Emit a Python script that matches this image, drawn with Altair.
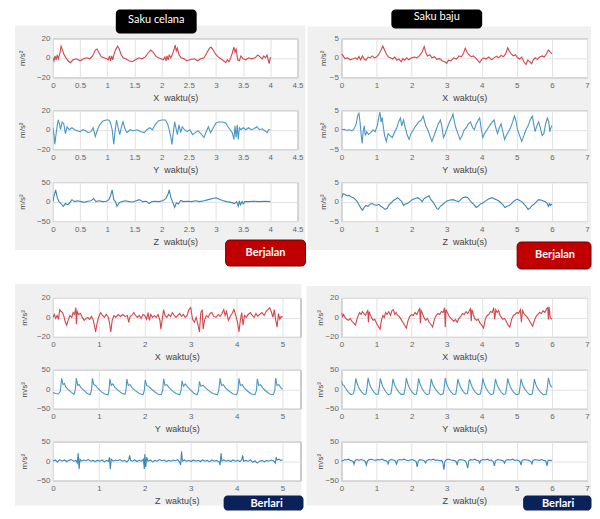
import altair as alt
import pandas as pd

# ---------------- data: (time [s], acceleration [m/s^2]) ----------------
# Saku celana / Berjalan
TL_X = [(0.00,0),(0.02,-3),(0.04,2),(0.06,-2),(0.08,3),(0.10,-1),(0.13,5),(0.15,12),(0.17,9),(0.20,4),(0.24,0),(0.28,-3),(0.32,-5),(0.37,-2),(0.43,-1),(0.50,-3),(0.56,-1),(0.62,0),(0.68,-1),(0.73,2),(0.78,8),(0.81,9),(0.85,5),(0.89,1),(0.94,0),(0.99,-1),(1.02,-2),(1.04,2),(1.06,-3),(1.08,2),(1.10,-2),(1.12,3),(1.15,8),(1.19,12),(1.22,9),(1.25,4),(1.29,0),(1.34,-1),(1.40,-3),(1.46,-4),(1.52,-2),(1.58,0),(1.64,-1),(1.70,1),(1.75,5),(1.80,8),(1.84,6),(1.89,2),(1.94,0),(1.99,-1),(2.03,-2),(2.06,1),(2.08,-3),(2.10,2),(2.12,-2),(2.14,3),(2.17,0),(2.20,4),(2.23,9),(2.25,13),(2.27,7),(2.29,10),(2.32,3),(2.36,0),(2.41,-1),(2.46,-3),(2.52,-2),(2.60,-1),(2.66,-3),(2.72,-1),(2.78,0),(2.83,5),(2.88,10),(2.91,11),(2.95,8),(2.99,4),(3.04,1),(3.09,-1),(3.14,-3),(3.18,-5),(3.21,-2),(3.24,-4),(3.27,0),(3.30,5),(3.33,11),(3.35,6),(3.37,9),(3.40,-2),(3.43,-3),(3.46,2),(3.50,-1),(3.55,-2),(3.60,0),(3.66,-1),(3.72,0),(3.77,3),(3.81,1),(3.85,-1),(3.88,2),(3.91,0),(3.94,3),(3.96,-2),(3.98,-6),(4.00,1)]
TL_Y = [(0.00,2),(0.02,-5),(0.035,-15),(0.05,-8),(0.08,5),(0.10,10),(0.12,6),(0.14,0),(0.17,8),(0.20,6),(0.23,-4),(0.26,3),(0.30,0),(0.35,2),(0.40,0),(0.45,-1),(0.50,-2),(0.55,0),(0.60,-1),(0.65,-3),(0.70,-2),(0.74,2),(0.78,-7),(0.82,0),(0.86,5),(0.92,9),(0.98,10),(1.03,10),(1.06,7),(1.09,0),(1.12,-15),(1.14,-3),(1.17,10),(1.20,2),(1.23,-5),(1.26,3),(1.29,8),(1.32,2),(1.36,-3),(1.42,0),(1.48,-1),(1.55,0),(1.62,-2),(1.68,-3),(1.73,0),(1.78,2),(1.83,0),(1.88,5),(1.94,9),(2.00,10),(2.07,10),(2.11,6),(2.14,0),(2.17,-8),(2.19,-15),(2.21,-5),(2.24,8),(2.27,0),(2.29,-5),(2.32,5),(2.35,-3),(2.38,3),(2.42,0),(2.47,-2),(2.52,0),(2.57,-5),(2.62,-3),(2.67,-1),(2.72,-4),(2.78,-8),(2.82,-2),(2.86,3),(2.90,-3),(2.95,2),(3.00,7),(3.05,8),(3.12,8),(3.18,7),(3.22,3),(3.26,0),(3.30,-3),(3.33,-10),(3.35,4),(3.37,-8),(3.39,5),(3.41,-10),(3.43,2),(3.46,0),(3.50,2),(3.55,0),(3.60,2),(3.65,0),(3.70,1),(3.75,3),(3.80,0),(3.85,1),(3.90,-1),(3.94,-3),(3.97,0),(4.00,0)]
TL_Z = [(0.00,0),(0.02,15),(0.05,30),(0.08,10),(0.11,0),(0.15,-5),(0.19,-12),(0.23,-5),(0.27,-8),(0.31,-3),(0.35,5),(0.40,0),(0.45,2),(0.52,0),(0.58,-2),(0.64,1),(0.70,2),(0.75,8),(0.79,0),(0.85,2),(0.92,0),(0.98,1),(1.03,5),(1.06,15),(1.09,30),(1.12,5),(1.15,0),(1.18,-12),(1.22,-3),(1.27,0),(1.33,2),(1.40,0),(1.47,-1),(1.53,2),(1.59,5),(1.65,0),(1.72,1),(1.77,-5),(1.82,0),(1.88,1),(1.95,0),(2.02,2),(2.08,8),(2.12,20),(2.14,30),(2.17,10),(2.20,0),(2.24,-15),(2.27,-3),(2.31,-6),(2.35,3),(2.40,0),(2.48,1),(2.55,0),(2.62,2),(2.70,0),(2.78,2),(2.86,5),(2.94,8),(3.00,10),(3.06,6),(3.12,3),(3.20,0),(3.28,-2),(3.34,-5),(3.38,0),(3.41,-12),(3.43,2),(3.45,-8),(3.48,0),(3.50,-6),(3.53,0),(3.60,0),(3.70,1),(3.80,0),(3.90,1),(4.00,0)]

# Saku baju / Berjalan
TR_X = [(0.00,1.0),(0.05,0.5),(0.10,-0.2),(0.18,0),(0.25,-0.5),(0.32,-0.3),(0.40,0),(0.45,-0.4),(0.50,0.3),(0.55,-0.5),(0.60,0.5),(0.65,-0.3),(0.70,-0.6),(0.76,0.2),(0.82,0),(0.88,0.5),(0.94,0),(1.00,0.2),(1.06,0.8),(1.12,1.8),(1.18,3.0),(1.23,2.0),(1.28,1.0),(1.34,0.2),(1.40,0),(1.46,-0.3),(1.52,0.2),(1.58,-0.6),(1.64,-0.3),(1.70,-1.0),(1.75,-0.2),(1.80,-0.6),(1.86,0),(1.92,-0.5),(2.00,0),(2.08,0.2),(2.15,0),(2.22,0.5),(2.30,1.5),(2.36,2.9),(2.40,1.5),(2.45,0.5),(2.52,0.8),(2.58,0),(2.65,0.3),(2.72,-0.4),(2.80,-0.2),(2.88,-0.8),(2.95,-1.0),(3.00,-1.4),(3.05,-0.6),(3.12,-0.8),(3.20,0),(3.28,-0.3),(3.35,0.5),(3.42,0.3),(3.48,1.2),(3.53,2.5),(3.58,1.5),(3.63,0.8),(3.70,0.3),(3.76,0.5),(3.82,0),(3.88,-0.6),(3.94,-1.2),(4.00,-0.4),(4.06,0),(4.12,-0.3),(4.20,0.2),(4.28,-0.5),(4.35,0),(4.42,0.4),(4.48,0),(4.55,0.6),(4.62,0.3),(4.68,1.0),(4.74,2.6),(4.78,1.8),(4.84,1.0),(4.90,0.5),(4.96,0.8),(5.02,0),(5.08,-0.3),(5.14,0.2),(5.20,-1.0),(5.26,-1.7),(5.31,-0.6),(5.36,-0.9),(5.42,-1.5),(5.47,-0.5),(5.52,0),(5.58,-0.4),(5.65,0.2),(5.72,0.5),(5.78,0.2),(5.84,1.0),(5.90,2.0),(5.95,1.5),(6.00,1.0)]
TR_Y = [(0.00,0),(0.08,0.1),(0.15,-0.2),(0.22,0),(0.30,-0.3),(0.36,0.2),(0.42,1.5),(0.47,3.8),(0.50,4.2),(0.53,2.0),(0.56,-1.0),(0.59,-3.5),(0.62,-0.5),(0.65,1.0),(0.68,-1.5),(0.72,-0.5),(0.77,-1.2),(0.83,-0.8),(0.90,0),(0.96,-0.5),(1.02,1.0),(1.07,3.5),(1.10,4.5),(1.13,2.0),(1.16,3.2),(1.19,1.0),(1.23,-1.5),(1.28,-3.0),(1.33,-1.0),(1.38,-1.5),(1.45,-2.0),(1.52,-0.5),(1.58,0.5),(1.63,2.0),(1.68,3.0),(1.72,1.0),(1.77,2.5),(1.82,0.5),(1.88,-1.5),(1.93,-2.5),(1.98,-1.0),(2.05,0),(2.12,1.0),(2.20,2.0),(2.28,2.5),(2.33,3.5),(2.36,2.5),(2.40,1.0),(2.46,0),(2.52,-1.5),(2.58,-3.0),(2.64,-1.5),(2.70,0),(2.76,1.5),(2.82,2.5),(2.86,1.0),(2.91,-2.0),(2.96,-1.0),(3.02,0.5),(3.08,2.0),(3.14,3.0),(3.18,4.0),(3.22,2.0),(3.26,0.5),(3.32,-1.0),(3.38,-2.5),(3.44,-1.5),(3.50,0),(3.56,0.5),(3.62,1.5),(3.68,2.0),(3.74,0.5),(3.79,0),(3.84,1.5),(3.90,2.5),(3.94,3.0),(3.98,0.5),(4.03,-2.0),(4.08,-1.0),(4.15,0),(4.22,1.0),(4.30,2.0),(4.35,2.5),(4.40,0.5),(4.45,-1.0),(4.50,0.5),(4.55,1.5),(4.60,-0.5),(4.65,-2.5),(4.70,-1.5),(4.76,-0.5),(4.82,0.5),(4.88,2.0),(4.93,3.5),(4.97,2.5),(5.02,0),(5.08,-1.5),(5.14,-3.0),(5.20,-1.5),(5.26,0),(5.32,1.0),(5.38,2.5),(5.44,3.5),(5.48,1.5),(5.52,-0.5),(5.57,1.0),(5.62,2.0),(5.67,0.5),(5.72,-1.5),(5.77,-1.0),(5.82,1.5),(5.87,3.0),(5.91,2.0),(5.94,-0.5),(5.97,0.5),(6.00,1.0)]
TR_Z = [(0.00,1.0),(0.05,2.0),(0.10,1.8),(0.16,1.5),(0.22,1.6),(0.28,1.2),(0.34,1.0),(0.40,0.5),(0.45,0),(0.50,-0.8),(0.55,-1.6),(0.60,-2.2),(0.65,-1.5),(0.70,-1.0),(0.76,-1.2),(0.82,-0.6),(0.88,-0.5),(0.94,-0.8),(1.00,-1.0),(1.06,-0.7),(1.12,-1.2),(1.18,-1.5),(1.24,-2.0),(1.30,-1.8),(1.36,-0.8),(1.42,-0.3),(1.48,0.3),(1.54,0.6),(1.60,1.0),(1.66,0.5),(1.72,0),(1.77,-1.0),(1.82,-0.6),(1.88,-0.5),(1.95,0),(2.02,0.5),(2.10,0.8),(2.18,1.0),(2.25,0.5),(2.30,0),(2.36,0.8),(2.44,1.2),(2.50,1.5),(2.55,0.5),(2.60,0),(2.66,-0.8),(2.72,-1.8),(2.76,-2.0),(2.82,-1.2),(2.88,-0.8),(2.95,-0.2),(3.02,0.2),(3.10,0.4),(3.18,0.5),(3.26,0.2),(3.34,0),(3.40,0.5),(3.46,1.0),(3.54,1.2),(3.60,1.0),(3.66,0.3),(3.72,-0.3),(3.78,-0.8),(3.84,-1.5),(3.90,-1.2),(3.96,-0.6),(4.02,-0.4),(4.08,0),(4.15,0.4),(4.22,0.8),(4.30,1.0),(4.36,0.7),(4.42,0.5),(4.48,0.2),(4.54,-0.3),(4.60,-0.8),(4.66,-1.5),(4.72,-1.2),(4.78,-1.0),(4.84,-0.6),(4.90,0),(4.96,0.4),(5.02,0.6),(5.08,0.3),(5.14,0),(5.20,-0.6),(5.26,-1.2),(5.32,-2.0),(5.38,-1.6),(5.44,-1.0),(5.50,-0.6),(5.56,0),(5.62,0.5),(5.68,0.4),(5.74,0.2),(5.80,0),(5.86,-0.4),(5.90,-1.2),(5.93,-0.5),(5.96,-1.0),(6.00,-0.6)]

# Saku celana / Berlari
BL_X = [(0.00,0),(0.03,3),(0.06,-1),(0.09,2),(0.12,-2),(0.15,8),(0.18,6),(0.21,5),(0.24,1),(0.27,-5),(0.30,-8),(0.33,-3),(0.37,2),(0.41,0),(0.44,5),(0.47,3),(0.50,10),(0.51,-7),(0.53,6),(0.56,3),(0.60,4),(0.64,0),(0.68,-3),(0.72,-1),(0.76,0),(0.80,-2),(0.84,1),(0.88,-3),(0.91,-10),(0.93,-15),(0.96,-6),(1.00,1),(1.04,5),(1.08,2),(1.12,0),(1.16,3),(1.20,1),(1.23,-5),(1.26,-15),(1.29,-3),(1.33,2),(1.37,0),(1.42,3),(1.47,1),(1.52,3),(1.57,1),(1.62,2),(1.65,-5),(1.68,1),(1.72,2),(1.76,5),(1.80,2),(1.84,0),(1.88,2),(1.92,-1),(1.96,3),(2.00,2),(2.04,-2),(2.07,5),(2.10,-3),(2.13,3),(2.17,0),(2.21,2),(2.25,0),(2.29,3),(2.33,-3),(2.35,-12),(2.38,-2),(2.41,8),(2.44,2),(2.48,0),(2.52,3),(2.56,1),(2.60,5),(2.64,2),(2.68,0),(2.72,2),(2.76,4),(2.80,1),(2.84,3),(2.88,0),(2.92,2),(2.96,8),(3.00,10),(3.04,-2),(3.08,-5),(3.12,0),(3.16,-8),(3.19,-15),(3.22,5),(3.25,8),(3.27,-12),(3.30,-3),(3.34,2),(3.38,0),(3.42,4),(3.46,5),(3.50,1),(3.55,0),(3.60,3),(3.64,1),(3.68,4),(3.72,8),(3.75,2),(3.78,6),(3.82,-3),(3.86,1),(3.90,4),(3.94,8),(3.98,2),(4.02,-5),(4.05,-15),(4.08,-3),(4.11,5),(4.14,-8),(4.17,2),(4.21,0),(4.25,3),(4.30,5),(4.34,2),(4.38,0),(4.42,4),(4.46,1),(4.50,3),(4.55,5),(4.60,2),(4.64,6),(4.68,8),(4.72,10),(4.76,5),(4.79,0),(4.82,8),(4.85,-3),(4.88,-10),(4.91,4),(4.94,-2),(4.97,1),(5.00,0)]
BL_Y = [(0.00,-8),(0.06,-11),(0.12,-12),(0.16,-5),(0.19,28),(0.22,12),(0.25,15),(0.28,6),(0.33,0),(0.40,-8),(0.46,-13),(0.49,0),(0.51,29),(0.54,10),(0.57,12),(0.61,4),(0.67,-2),(0.74,-10),(0.81,-14),(0.84,-2),(0.86,28),(0.89,12),(0.93,10),(0.98,2),(1.05,-6),(1.13,-12),(1.20,-14),(1.22,-4),(1.24,27),(1.27,10),(1.30,14),(1.35,5),(1.42,-3),(1.50,-10),(1.57,-13),(1.59,-3),(1.61,26),(1.64,10),(1.68,12),(1.73,3),(1.80,-4),(1.88,-11),(1.96,-14),(1.99,-3),(2.01,24),(2.04,10),(2.08,8),(2.13,2),(2.20,-5),(2.28,-12),(2.36,-14),(2.39,-2),(2.41,27),(2.44,10),(2.48,12),(2.53,4),(2.60,-4),(2.68,-11),(2.76,-14),(2.79,-3),(2.81,22),(2.84,8),(2.88,14),(2.93,6),(3.00,-2),(3.07,-10),(3.14,-14),(3.17,-3),(3.19,20),(3.22,8),(3.27,10),(3.33,3),(3.40,-4),(3.48,-11),(3.58,-14),(3.61,-3),(3.64,28),(3.67,10),(3.71,12),(3.76,3),(3.84,-5),(3.92,-12),(4.00,-14),(4.03,-3),(4.05,28),(4.08,10),(4.12,12),(4.17,3),(4.24,-5),(4.32,-12),(4.40,-14),(4.43,-3),(4.45,27),(4.48,10),(4.52,12),(4.57,3),(4.64,-5),(4.72,-12),(4.80,-14),(4.83,-3),(4.85,29),(4.88,10),(4.92,12),(4.96,4),(5.00,0)]
BL_Z = [(0.00,0),(0.05,3),(0.10,-2),(0.15,4),(0.20,0),(0.25,3),(0.30,-1),(0.35,2),(0.40,4),(0.45,0),(0.50,2),(0.53,-5),(0.55,20),(0.57,-20),(0.59,5),(0.62,0),(0.67,3),(0.72,1),(0.77,4),(0.82,0),(0.87,2),(0.92,-1),(0.97,2),(1.02,0),(1.07,3),(1.12,-2),(1.17,2),(1.21,0),(1.23,10),(1.25,-20),(1.27,5),(1.31,0),(1.36,3),(1.41,1),(1.46,4),(1.51,0),(1.56,2),(1.61,-2),(1.65,3),(1.67,15),(1.69,2),(1.73,0),(1.78,3),(1.83,-1),(1.88,2),(1.93,0),(1.97,5),(1.99,-20),(2.00,18),(2.02,-15),(2.04,10),(2.07,0),(2.12,3),(2.17,-2),(2.22,2),(2.27,0),(2.32,4),(2.37,1),(2.42,3),(2.47,-1),(2.52,2),(2.57,0),(2.62,3),(2.67,1),(2.72,4),(2.76,-3),(2.78,-10),(2.80,25),(2.82,0),(2.86,3),(2.91,0),(2.96,2),(3.01,-1),(3.06,3),(3.11,0),(3.16,2),(3.21,-1),(3.26,3),(3.31,0),(3.36,2),(3.41,-2),(3.46,3),(3.51,0),(3.56,2),(3.62,-2),(3.64,-10),(3.66,20),(3.68,0),(3.72,3),(3.77,0),(3.82,2),(3.87,-1),(3.92,3),(3.97,0),(4.02,2),(4.07,-1),(4.11,3),(4.13,15),(4.15,0),(4.20,2),(4.25,0),(4.30,3),(4.35,-3),(4.40,1),(4.45,-5),(4.50,0),(4.55,2),(4.60,-2),(4.65,2),(4.70,0),(4.75,3),(4.80,1),(4.84,-5),(4.86,10),(4.88,3),(4.92,5),(4.96,2),(5.00,3)]

# Saku baju / Berlari
BR_X = [(0.00,5),(0.03,1),(0.06,3),(0.10,0),(0.15,-2),(0.20,-3),(0.25,-1),(0.30,-4),(0.35,-6),(0.40,-8),(0.44,-2),(0.48,2),(0.52,5),(0.56,3),(0.60,6),(0.64,4),(0.68,2),(0.72,5),(0.75,7),(0.77,-5),(0.79,6),(0.82,3),(0.86,0),(0.90,-3),(0.95,-2),(1.00,-6),(1.05,-9),(1.10,-12),(1.14,-3),(1.18,2),(1.22,0),(1.26,5),(1.30,3),(1.35,6),(1.40,2),(1.44,7),(1.48,8),(1.52,3),(1.56,5),(1.60,2),(1.65,1),(1.70,-2),(1.75,-5),(1.80,-8),(1.85,-11),(1.90,-3),(1.95,1),(2.00,3),(2.05,2),(2.10,5),(2.15,3),(2.20,7),(2.23,9),(2.25,-6),(2.27,7),(2.30,5),(2.35,0),(2.40,-3),(2.45,-1),(2.50,-5),(2.55,-7),(2.60,-10),(2.65,-2),(2.70,2),(2.75,4),(2.80,3),(2.85,6),(2.90,5),(2.94,10),(2.96,-10),(2.98,8),(3.02,5),(3.06,2),(3.10,0),(3.15,-2),(3.20,-4),(3.25,-2),(3.30,-5),(3.35,-1),(3.40,1),(3.45,4),(3.50,3),(3.55,6),(3.60,4),(3.65,7),(3.68,9),(3.70,-4),(3.72,8),(3.76,3),(3.80,-1),(3.85,-3),(3.90,-2),(3.95,-6),(4.00,-8),(4.05,-11),(4.10,-2),(4.15,2),(4.20,3),(4.25,6),(4.30,5),(4.34,10),(4.37,-2),(4.40,8),(4.44,5),(4.48,7),(4.52,2),(4.56,0),(4.60,-2),(4.65,-1),(4.70,-4),(4.75,-8),(4.80,-10),(4.85,-2),(4.90,2),(4.95,3),(5.00,5),(5.05,4),(5.10,8),(5.13,-5),(5.16,7),(5.20,4),(5.25,2),(5.30,0),(5.35,-3),(5.40,-6),(5.45,-9),(5.50,-3),(5.55,1),(5.60,3),(5.65,5),(5.70,4),(5.75,7),(5.80,5),(5.85,9),(5.88,10),(5.90,-2),(5.92,11),(5.95,0),(6.00,-2)]
BR_Y = [(0.00,22),(0.03,12),(0.07,10),(0.12,2),(0.20,-8),(0.28,-14),(0.34,-12),(0.38,5),(0.41,28),(0.45,14),(0.50,3),(0.57,-7),(0.64,-13),(0.70,-12),(0.73,5),(0.76,29),(0.80,14),(0.85,3),(0.92,-7),(0.99,-13),(1.05,-12),(1.08,5),(1.11,28),(1.15,14),(1.20,3),(1.27,-7),(1.34,-14),(1.41,-12),(1.44,5),(1.47,27),(1.51,13),(1.56,3),(1.63,-7),(1.70,-13),(1.78,-13),(1.82,5),(1.85,29),(1.89,14),(1.94,3),(2.01,-7),(2.08,-13),(2.14,-12),(2.17,5),(2.20,28),(2.24,14),(2.29,3),(2.36,-7),(2.43,-14),(2.50,-12),(2.53,5),(2.56,27),(2.60,13),(2.66,3),(2.74,-7),(2.82,-14),(2.90,-12),(2.93,5),(2.96,29),(3.00,14),(3.05,3),(3.12,-7),(3.19,-13),(3.26,-12),(3.29,5),(3.32,27),(3.36,13),(3.41,3),(3.47,-6),(3.54,-12),(3.59,-11),(3.62,5),(3.65,26),(3.69,14),(3.74,3),(3.81,-7),(3.89,-14),(3.96,-12),(4.00,5),(4.03,28),(4.07,14),(4.12,3),(4.19,-7),(4.26,-14),(4.33,-12),(4.36,5),(4.39,27),(4.43,13),(4.48,3),(4.55,-7),(4.62,-14),(4.68,-12),(4.71,5),(4.74,28),(4.78,14),(4.83,3),(4.90,-7),(4.98,-14),(5.06,-12),(5.09,5),(5.12,27),(5.16,13),(5.21,3),(5.29,-7),(5.36,-14),(5.44,-12),(5.47,5),(5.50,26),(5.54,13),(5.59,3),(5.67,-7),(5.75,-14),(5.84,-13),(5.87,5),(5.90,29),(5.94,14),(5.97,8),(6.00,5)]
BR_Z = [(0.00,0),(0.05,2),(0.10,4),(0.15,3),(0.20,5),(0.25,2),(0.30,1),(0.34,-2),(0.36,-8),(0.39,2),(0.44,4),(0.50,2),(0.55,4),(0.60,3),(0.66,1),(0.69,-3),(0.71,-10),(0.74,0),(0.79,4),(0.85,5),(0.92,3),(0.98,2),(1.04,4),(1.10,3),(1.16,5),(1.22,2),(1.28,1),(1.31,-2),(1.33,-7),(1.36,2),(1.42,4),(1.48,3),(1.53,1),(1.55,-3),(1.57,-8),(1.60,2),(1.66,4),(1.72,3),(1.78,5),(1.84,3),(1.90,1),(1.96,3),(2.02,4),(2.08,2),(2.12,0),(2.14,-5),(2.16,-15),(2.19,0),(2.24,4),(2.30,3),(2.36,1),(2.40,-5),(2.43,2),(2.50,4),(2.56,3),(2.62,5),(2.68,2),(2.74,3),(2.80,1),(2.86,2),(2.89,-4),(2.92,-22),(2.95,0),(3.00,4),(3.06,5),(3.12,3),(3.18,2),(3.24,1),(3.28,-3),(3.30,-10),(3.33,2),(3.40,4),(3.46,3),(3.52,1),(3.56,-4),(3.60,-18),(3.63,1),(3.68,4),(3.74,3),(3.80,5),(3.86,2),(3.91,1),(3.94,-5),(3.97,2),(4.04,4),(4.10,3),(4.16,5),(4.22,2),(4.28,3),(4.33,-2),(4.36,-12),(4.39,1),(4.45,4),(4.52,3),(4.58,2),(4.62,0),(4.65,-5),(4.68,2),(4.75,4),(4.82,3),(4.88,5),(4.94,2),(5.00,3),(5.06,1),(5.10,-3),(5.12,-10),(5.15,2),(5.22,4),(5.28,3),(5.34,2),(5.40,-1),(5.43,-7),(5.46,2),(5.52,4),(5.58,3),(5.64,2),(5.70,4),(5.76,2),(5.82,1),(5.84,-4),(5.86,-12),(5.89,2),(5.93,3),(5.96,1),(6.00,2)]

# axis ticks
TICKS_45 = [0, 0.5, 1, 1.5, 2, 2.5, 3, 3.5, 4, 4.5]
TICKS_5 = [0, 1, 2, 3, 4, 5]
TICKS_7 = [0, 1, 2, 3, 4, 5, 6, 7]

# ---------------- styling ----------------
RED = "#d2464c"
BLUE_Y = "#4b97c4"
BLUE_Z = "#3d86b3"
PANEL_GRAY = "#f0f0f0"
FONT = "Liberation Sans"
BOX_FONT = "Lato"

dummy = pd.DataFrame({"k": [0]})


def signal(pairs, xdom, xticks, ydom, color, axis_name, width, y_extent, title_pad):
    df = pd.DataFrame(pairs, columns=["t", "a"])
    yticks = [ydom[0], 0, ydom[1]]
    return alt.Chart(df).mark_line(color=color, strokeWidth=1.1, clip=True).encode(
        x=alt.X("t:Q",
                scale=alt.Scale(domain=xdom, nice=False, zero=False),
                axis=alt.Axis(values=xticks, format="~g",
                              title=axis_name + "\u00a0\u00a0waktu(s)",
                              labelFlush=False, labelOverlap=False, ticks=False,
                              domain=False, grid=True, labelPadding=4,
                              minExtent=12, maxExtent=12, titlePadding=4)),
        y=alt.Y("a:Q",
                scale=alt.Scale(domain=ydom, nice=False, zero=False),
                axis=alt.Axis(values=yticks, title="m/s²", ticks=False, domain=False,
                              grid=True, labelPadding=3, labelOverlap=False,
                              minExtent=y_extent, maxExtent=y_extent,
                              titlePadding=title_pad, titleFontSize=8)),
    ).properties(width=width, height=39,
                 view=alt.ViewBackground(fill="white", stroke="#9b9b9b", strokeWidth=1))


def rect(x0, y0, x1, y1, fill, stroke=None, radius=0):
    kw = dict(fill=fill, cornerRadius=radius)
    if stroke:
        kw.update(stroke=stroke, strokeWidth=1)
    return alt.Chart(dummy).mark_rect(**kw).encode(
        x=alt.value(x0), x2=alt.value(x1), y=alt.value(y0), y2=alt.value(y1))


def caption(x, y, txt, size=11, weight="normal"):
    return alt.Chart(dummy).mark_text(
        text=txt, color="white", font=BOX_FONT, fontSize=size, fontWeight=weight,
        align="center", baseline="middle").encode(x=alt.value(x), y=alt.value(y))


def spacer(w, h, *layers):
    base = alt.Chart(dummy).mark_text(text="").encode(x=alt.value(1), y=alt.value(1))
    return alt.layer(base, *layers).properties(width=w, height=h)


# decorations (pixel offsets relative to the small left spacer of each row);
# nothing may reach past x = 583 so that the page keeps its 600 px width
top_deco = spacer(34, 39,
                  rect(6, -13, 297, 212, PANEL_GRAY),
                  rect(299, -12, 583, 212, PANEL_GRAY),
                  rect(107, -29, 188, -5, "#000000", radius=4),
                  caption(147.5, -18, "Saku celana"),
                  rect(383, -29, 474, -10, "#000000", radius=4),
                  caption(428.5, -21, "Saku baju"))
mid_deco = spacer(34, 11,
                  rect(217, -14, 297, 12, "#c00000", stroke="#6e0000", radius=4),
                  caption(257, -1.5, "Berjalan", 11, "bold"),
                  rect(509, -12, 583, 15, "#c00000", stroke="#6e0000", radius=4),
                  caption(547, 0.5, "Berjalan", 11, "bold"))
bot_deco = spacer(34, 39,
                  rect(6, -14, 293, 208, PANEL_GRAY),
                  rect(298, -12, 583, 208, PANEL_GRAY))
end_deco = spacer(34, 39,
                  rect(215, 54, 295, 69, "#0b2159", radius=4),
                  caption(258, 62, "Berlari", 11, "bold"),
                  rect(515, 54, 583.5, 69, "#0b2159", radius=4),
                  caption(550, 62, "Berlari", 11, "bold"))

BL_MAX = 5.39

rows = [
    [top_deco,
     signal(TL_X, [0, 4.5], TICKS_45, [-20, 20], RED, "X", 245, 16, 10.5),
     spacer(21, 39),
     signal(TR_X, [0, 7], TICKS_7, [-5, 5], RED, "X", 246, 12, 2.3)],
    [spacer(34, 39),
     signal(TL_Y, [0, 4.5], TICKS_45, [-20, 20], BLUE_Y, "Y", 245, 16, 10.5),
     spacer(21, 39),
     signal(TR_Y, [0, 7], TICKS_7, [-5, 5], BLUE_Y, "Y", 246, 12, 2.3)],
    [spacer(34, 39),
     signal(TL_Z, [0, 4.5], TICKS_45, [-50, 50], BLUE_Z, "Z", 245, 16, 10.5),
     spacer(21, 39),
     signal(TR_Z, [0, 7], TICKS_7, [-5, 5], BLUE_Z, "Z", 246, 12, 2.3)],
    [mid_deco, spacer(245, 11), spacer(21, 11), spacer(246, 11)],
    [bot_deco,
     signal(BL_X, [0, BL_MAX], TICKS_5, [-20, 20], RED, "X", 248, 16, 8.7),
     spacer(21, 39),
     signal(BR_X, [0, 7], TICKS_7, [-20, 20], RED, "X", 246, 14, 3)],
    [spacer(34, 39),
     signal(BL_Y, [0, BL_MAX], TICKS_5, [-50, 50], BLUE_Y, "Y", 248, 16, 8.7),
     spacer(21, 39),
     signal(BR_Y, [0, 7], TICKS_7, [-50, 50], BLUE_Y, "Y", 246, 14, 3)],
    [end_deco,
     signal(BL_Z, [0, BL_MAX], TICKS_5, [-50, 50], BLUE_Z, "Z", 248, 16, 8.7),
     spacer(21, 39),
     signal(BR_Z, [0, 7], TICKS_7, [-50, 50], BLUE_Z, "Z", 246, 14, 3)],
]

charts = [c for row in rows for c in row]

chart = alt.concat(
    *charts, columns=4, spacing={"row": 33, "column": 10},
    bounds="flush", align={"row": "each", "column": "each"},
).properties(
    padding=0, background="white"
).configure_view(
    stroke="transparent"
).configure_axis(
    labelFont=FONT, titleFont=FONT, labelFontSize=8, titleFontSize=9,
    labelColor="#666666", titleColor="#444444", titleFontWeight="normal",
    gridColor="#e2e2e2", gridWidth=1,
)

chart.save("out.html", embed_options={"renderer": "svg", "actions": False})
